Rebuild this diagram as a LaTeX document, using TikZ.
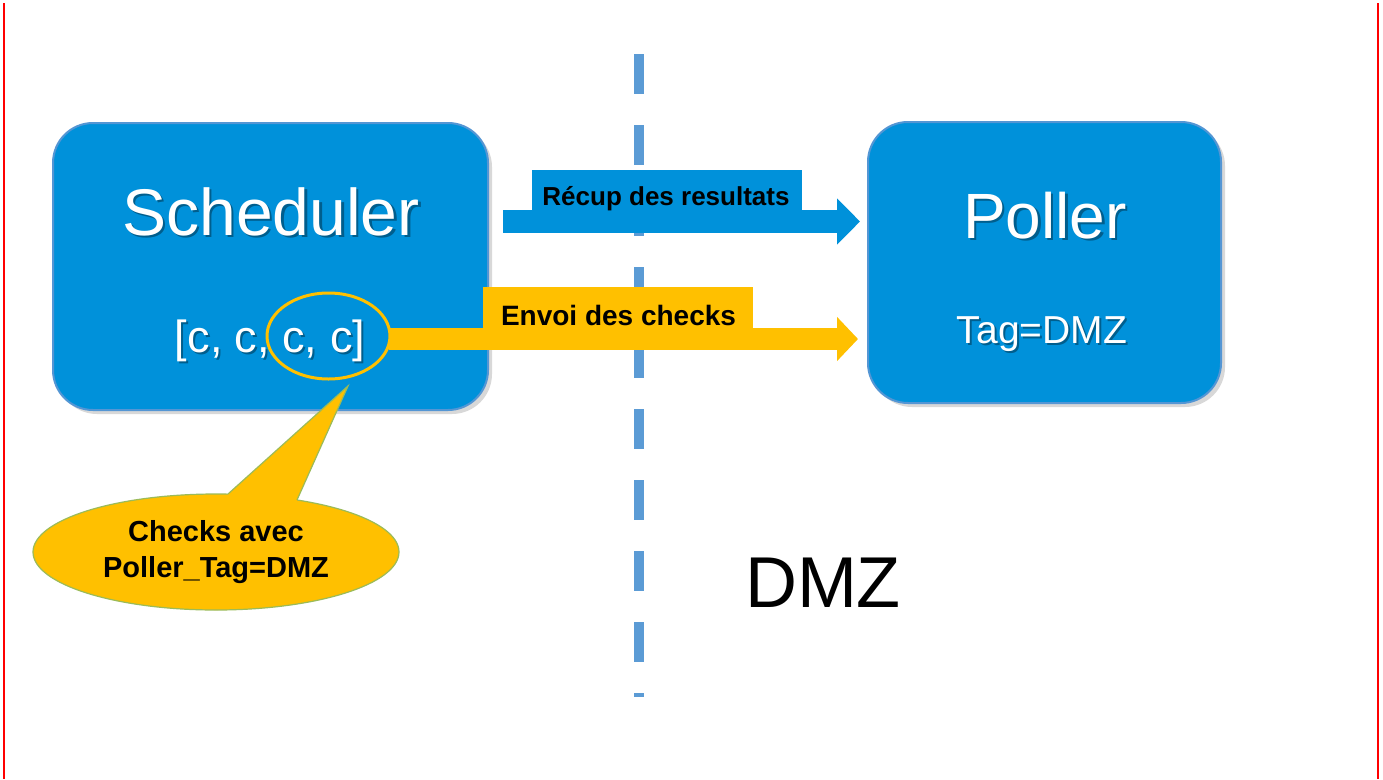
\documentclass[tikz,border=0pt]{standalone}
\usepackage{fontspec}
\setmainfont{Liberation Sans}
\usetikzlibrary{shapes.geometric,arrows.meta,shadows}
\definecolor{boxblue}{RGB}{0,145,218}
\definecolor{boxedge}{RGB}{84,150,212}
\definecolor{dashblue}{RGB}{91,155,213}
\definecolor{amber}{RGB}{255,192,0}
\definecolor{olivegreen}{RGB}{155,187,89}
\newcommand\fsz[1]{\fontsize{#1}{#1}\selectfont}
\begin{document}
\begin{tikzpicture}[x=1pt,y=-1pt,
  mainbox/.style={draw=boxedge, line width=2pt, fill=boxblue, rounded corners=40pt, inner sep=0pt,
    drop shadow={shadow xshift=4pt, shadow yshift=-4pt, opacity=.3}},
  wtxt/.style={text=white, anchor=base, inner sep=0pt},
  stxt/.style={text=black, opacity=.35, anchor=base, inner sep=0pt},
  btxt/.style={text=black, anchor=base, inner sep=0pt},
  labelbox/.style={inner sep=0pt, anchor=north west},
  dashline/.style={dashblue, line width=10pt, dash pattern=on 40pt off 31pt},
  bluearrow/.style={boxblue, line width=23pt, -{Triangle[length=23pt,width=45pt]}},
  amberarrow/.style={amber, line width=22pt, -{Triangle[length=21pt,width=43pt]}},
  frameline/.style={red, line width=2pt}
]
\useasboundingbox (0,0) rectangle (1383,779);
\fill[white] (0,0) rectangle (1383,779);

% frame lines
\draw[frameline] (4,3) -- (4,779);
\draw[frameline] (1378,3) -- (1378,779);

% DMZ boundary
\coordinate (d1) at (639,54);
\coordinate (d2) at (639,697);
\draw[dashline] (d1) -- (d2);

% boxes
\node[mainbox, minimum width=435pt, minimum height=287pt] (sched) at (270.5,266.5) {};
\node[mainbox, minimum width=353pt, minimum height=281pt] (poller) at (1044.5,262.5) {};

% box texts
\node[stxt, font=\fsz{66}] (schS) at (273.5,237.5) {Scheduler};
\node[wtxt, font=\fsz{66}] (schT) at (271,235) {Scheduler};
\node[stxt, font=\fsz{45}] (listS) at (272,354) {[c, c, c, c]};
\node[wtxt, font=\fsz{45}] (listT) at (270,352) {[c, c, c, c]};
\node[stxt, font=\fsz{64}] (polS) at (1047.5,240.5) {Poller};
\node[wtxt, font=\fsz{64}] (polT) at (1045,238) {Poller};
\node[stxt, font=\fsz{39}] (tagS) at (1044,345) {Tag=DMZ};
\node[wtxt, font=\fsz{39}] (tagT) at (1042,343) {Tag=DMZ};

% ring around the last checks
\node[draw=amber, line width=3pt, ellipse, minimum width=123pt, minimum height=86pt, inner sep=0pt] (cc) at (328.5,336) {};

% arrows
\coordinate (b1) at (503,221.5);
\coordinate (b2) at (860,221.5);
\draw[bluearrow] (b1) -- (b2);
\coordinate (y1) at (389,339);
\coordinate (y2) at (858,339);
\draw[amberarrow] (y1) -- (y2);

% arrow labels
\node[labelbox, fill=boxblue, minimum width=270pt, minimum height=40pt] (rbox) at (532,170) {};
\node[btxt, font=\fsz{26}\bfseries] (rtxt) at (666,205) {Récup des resultats};
\node[labelbox, fill=amber, minimum width=270pt, minimum height=41pt] (ebox) at (483,287) {};
\node[btxt, font=\fsz{28}\bfseries] (etxt) at (618.5,325) {Envoi des checks};

% callout
\node[ellipse, fill=amber, draw=olivegreen, line width=1.2pt, minimum width=366pt, minimum height=116pt,
  inner sep=0pt, align=center, font=\fontsize{29}{36}\selectfont\bfseries] (callout) at (216,552)
  {Checks avec\\Poller\_Tag=DMZ};
\coordinate (tip) at (348,386);
\coordinate (tb1) at (228,494);
\coordinate (tb2) at (297,500);
\fill[amber] (tip) -- (tb1) -- (228,510) -- (297,512) -- (tb2) -- cycle;
\draw[olivegreen, line width=1.2pt] (tb1) -- (tip) -- (tb2);

% zone label
\node[btxt, font=\fsz{72}] (dmz) at (823,607) {DMZ};
\end{tikzpicture}
\end{document}
